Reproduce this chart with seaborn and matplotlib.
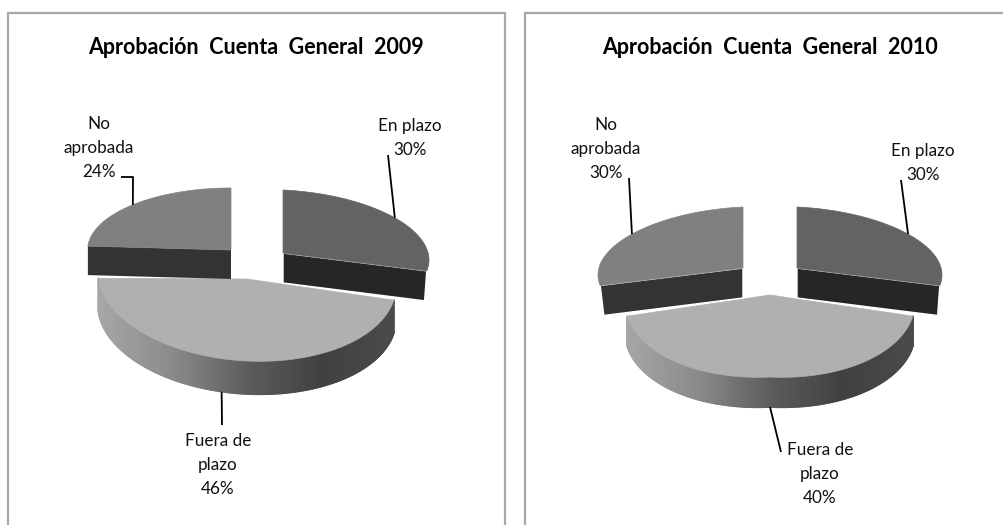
import numpy as np
import matplotlib
matplotlib.use('Agg')
import matplotlib.pyplot as plt
import seaborn as sns
from matplotlib.collections import PolyCollection
from matplotlib.patches import Rectangle

# ================= datos =================
TITLES = ['Aprobación  Cuenta  General  2009', 'Aprobación  Cuenta  General  2010']
CATEGORIES = ['En plazo', 'Fuera de plazo', 'No aprobada']
LABEL_TEXT = ['En plazo', 'Fuera de\nplazo', 'No\naprobada']
VALUES_2009 = [30, 46, 24]
VALUES_2010 = [30, 40, 30]

# ================= estilo =================
TOP_COLORS = ['#636363', '#b0b0b0', '#808080']
CUT_COLORS = ['#262626', '#555555', '#333333']
BORDER = '#a8a8a8'

# start = apparent start angle, warp = foreshortening of the sweep, tl/tr = tilt
GEOM_2009 = [
    dict(cx=283, cy=253, rx=146, ry=63, depth=30, start=0, warp=0.926, tr=7, tl=0, shrink=0.985, halo='white', shift=0),
    dict(cx=247, cy=279, rx=149, ry=82, depth=33, start=100, warp=1.0, tr=7, tl=-7, shrink=1.0, halo='none', shift=7),
    dict(cx=231, cy=250, rx=143.4, ry=62, depth=29, start=273.6, warp=1.0, tr=0, tl=0, shrink=1.0, halo='none', shift=0),
]
GEOM_2010 = [
    dict(cx=797, cy=268, rx=145, ry=61, depth=30, start=0, warp=0.926, tr=7, tl=0, shrink=0.985, halo='white', shift=0),
    dict(cx=770, cy=295, rx=145, ry=82, depth=30, start=100, warp=1.111, tr=7, tl=7, shrink=1.0, halo='none', shift=0),
    dict(cx=743, cy=268, rx=145, ry=61, depth=30, start=260, warp=0.926, tr=0, tl=7, shrink=0.975, halo='white', shift=0),
]
TITLE_POS = [(256.5, 47), (770, 47)]
LABEL_POS_2009 = [(410, 138), (218, 465), (99, 148)]
LABEL_POS_2010 = [(923, 163), (820, 474), (606, 149)]
LEADER_2009 = [[(388, 155)], [(222, 425)], [(121, 177), (133, 177)]]
LEADER_2010 = [[(901, 180)], [(781, 452)], [(629, 178)]]

sns.set_theme(style='white')
plt.rcParams['font.family'] = ['Lato', 'DejaVu Sans']


def point(g, theta, down=0.0):
    t = np.radians(theta)
    s, c = np.sin(t), np.cos(t)
    x = g['cx'] + g['rx'] * s
    y = g['cy'] - g['ry'] * c + g['tr'] * np.maximum(s, 0) + g['tl'] * np.maximum(-s, 0)
    if down:
        x = g['cx'] + (x - g['cx']) * g['shrink']
        y = y + down
    return x, y


def draw_slice(ax, g, value, top_color, cut_color):
    sweep = value * 3.6 * g['warp']
    th = np.linspace(g['start'], g['start'] + sweep, 240)
    x, y = point(g, th)
    d = g['depth']

    if sweep > 150:
        # outer wall with the horizontal gradient
        xb, yb = point(g, th, d)
        quads = [[(x[i], y[i]), (x[i + 1], y[i + 1]), (xb[i + 1], yb[i + 1]), (xb[i], yb[i])]
                 for i in range(len(th) - 1)]
        pal = sns.blend_palette(['#a6a6a6', '#8a8a8a', '#5c5c5c', '#404040', '#4c4c4c'], 200)
        u = (x[:-1] + x[1:]) / 2
        idx = ((u - g['cx'] + g['rx']) / (2 * g['rx']) * 199).clip(0, 199).astype(int)
        ax.add_collection(PolyCollection(quads, facecolors=[pal[i] for i in idx],
                                         edgecolors=[pal[i] for i in idx], linewidths=1.2, zorder=2))
    else:
        # cut face seen from the front
        end = th[-1] if g['start'] < 180 else th[0]
        ex, ey = point(g, end)
        ex2, ey2 = point(g, end, d)
        ax.fill([g['cx'], ex, ex2, g['cx']], [g['cy'], ey, ey2, g['cy'] + d],
                fc=cut_color, ec=g['halo'], lw=1.0, zorder=3)

    ax.fill(np.r_[g['cx'], x], np.r_[g['cy'], y], color=top_color, lw=0.5, zorder=3)


def draw_pie(ax, values, geoms, label_pos, leaders, title, title_pos):
    for i in [1, 0, 2]:
        draw_slice(ax, geoms[i], values[i], TOP_COLORS[i], CUT_COLORS[i])

    for i in range(3):
        g = geoms[i]
        mid = g['start'] + values[i] * 1.8 * g['warp'] + g['shift']
        if i == 1:
            ex, ey = point(g, mid, g['depth'])
        else:
            ex, ey = point(g, mid)
        pts = leaders[i] + [(ex, ey)]
        ax.plot([p[0] for p in pts], [p[1] for p in pts], color='black', lw=1.3, zorder=5,
                solid_capstyle='butt')
        ax.text(label_pos[i][0], label_pos[i][1], f'{LABEL_TEXT[i]}\n{values[i]}%',
                ha='center', va='center', fontsize=12.3, color='#111111', linespacing=1.58, zorder=6)

    ax.text(title_pos[0], title_pos[1], title, ha='center', va='center',
            fontsize=15.5, fontweight='bold', color='black')


fig = plt.figure(figsize=(10.04, 5.25), dpi=100)
ax = fig.add_axes([0, 0, 1, 1])
ax.set_xlim(0, 1004)
ax.set_ylim(525, 0)
ax.axis('off')

ax.add_patch(Rectangle((8, 13), 497, 600, fc='white', ec=BORDER, lw=1.6, zorder=1))
ax.add_patch(Rectangle((525, 13), 600, 600, fc='white', ec=BORDER, lw=1.6, zorder=1))

draw_pie(ax, VALUES_2009, GEOM_2009, LABEL_POS_2009, LEADER_2009, TITLES[0], TITLE_POS[0])
draw_pie(ax, VALUES_2010, GEOM_2010, LABEL_POS_2010, LEADER_2010, TITLES[1], TITLE_POS[1])

fig.savefig('out.png', dpi=100)
